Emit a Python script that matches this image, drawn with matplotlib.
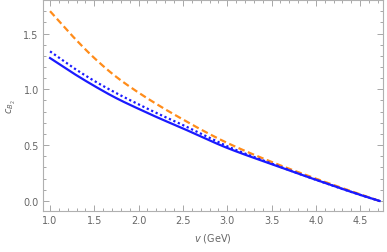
import matplotlib
matplotlib.use("Agg")
import matplotlib.pyplot as plt
from matplotlib.ticker import MultipleLocator
import numpy as np

v = [1.0, 1.25, 1.5, 1.75, 2.0, 2.25, 2.5, 2.75, 3.0, 3.5, 4.0, 4.5, 4.72]
c_orange = [1.70, 1.48, 1.28, 1.11, 0.97, 0.845, 0.73, 0.62, 0.52, 0.35, 0.20, 0.06, 0.0]
c_dotted = [1.34, 1.20, 1.075, 0.965, 0.865, 0.77, 0.68, 0.585, 0.49, 0.335, 0.19, 0.055, 0.0]
c_solid = [1.28, 1.15, 1.03, 0.92, 0.825, 0.735, 0.65, 0.56, 0.475, 0.33, 0.19, 0.055, 0.0]

xticks = [1.0, 1.5, 2.0, 2.5, 3.0, 3.5, 4.0, 4.5]
yticks = [0.0, 0.5, 1.0, 1.5]

def smooth(x, y, n=300):
    x = np.asarray(x, float); y = np.asarray(y, float)
    xs = np.linspace(x[0], x[-1], n)
    h = np.diff(x); d = np.diff(y) / h
    m = np.zeros_like(y)
    for i in range(1, len(x) - 1):
        if d[i-1] * d[i] > 0:
            w1 = 2*h[i] + h[i-1]; w2 = h[i] + 2*h[i-1]
            m[i] = (w1 + w2) / (w1/d[i-1] + w2/d[i])
    m[0] = d[0]; m[-1] = d[-1]
    ys = np.empty_like(xs)
    idx = np.clip(np.searchsorted(x, xs) - 1, 0, len(x) - 2)
    for k, (xx, i) in enumerate(zip(xs, idx)):
        t = (xx - x[i]) / h[i]
        h00 = 2*t**3 - 3*t**2 + 1; h10 = t**3 - 2*t**2 + t
        h01 = -2*t**3 + 3*t**2; h11 = t**3 - t**2
        ys[k] = h00*y[i] + h10*h[i]*m[i] + h01*y[i+1] + h11*h[i]*m[i+1]
    return xs, ys

fig = plt.figure(figsize=(3.87, 2.53), dpi=100)
ax = fig.add_axes([0.111, 0.162, 0.879, 0.834])

gray = "#999999"
xs, ys = smooth(v, c_orange)
ax.plot(xs, ys, color="#ff8c1a", lw=1.6, dashes=(3, 1.6))
xs, ys = smooth(v, c_dotted)
ax.plot(xs, ys, color="#1a1aff", lw=1.6, dashes=(1, 1.2))
xs, ys = smooth(v, c_solid)
ax.plot(xs, ys, color="#1a1aff", lw=1.6)

ax.set_xlim(0.92, 4.76)
ax.set_ylim(-0.09, 1.80)
ax.set_xticks(xticks)
ax.set_yticks(yticks)
ax.xaxis.set_minor_locator(MultipleLocator(0.1))
ax.yaxis.set_minor_locator(MultipleLocator(0.1))
ax.set_xticklabels([f"{t:.1f}" for t in xticks])
ax.set_yticklabels([f"{t:.1f}" for t in yticks])
ax.tick_params(which="both", direction="in", top=True, right=True,
               color=gray, labelcolor="#666666", labelsize=7, width=0.6, pad=3)
ax.tick_params(which="major", length=4)
ax.tick_params(which="minor", length=2)
for s in ax.spines.values():
    s.set_color("#b0b0b0"); s.set_linewidth(0.8)

ax.set_xlabel(r"$v$ (GeV)", color="#666666", fontsize=7, labelpad=4)
ax.set_ylabel(r"$c_{B_2}$", color="#666666", fontsize=7, labelpad=4)

fig.savefig("out.png", dpi=100)
